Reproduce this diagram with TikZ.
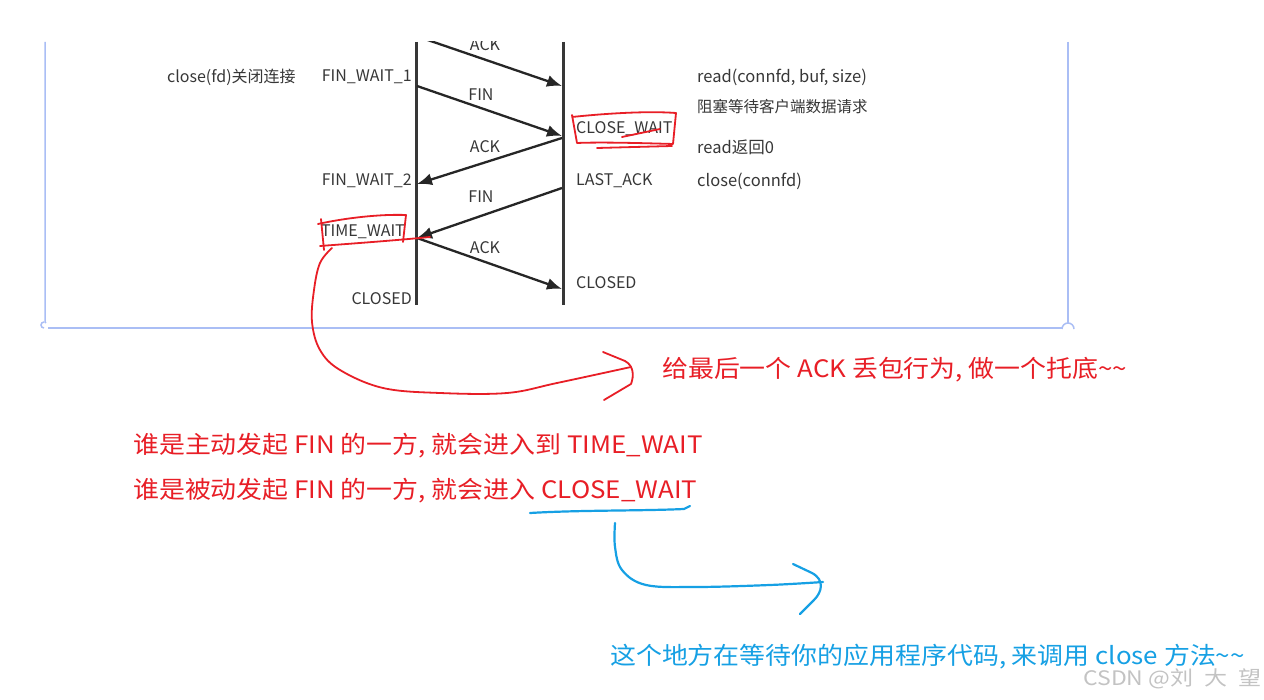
\documentclass[tikz,border=0pt]{standalone}
\usepackage{fontspec}
\newfontfamily\cjk{Noto Sans CJK SC}
\newfontfamily\cjkwide[FakeStretch=1.08]{Noto Sans CJK SC}
\newfontfamily\cjkwm[FakeStretch=1.15]{Noto Sans CJK SC}
\usetikzlibrary{arrows.meta}
\definecolor{ink}{RGB}{55,55,55}
\definecolor{frameblue}{RGB}{170,190,245}
\definecolor{penred}{RGB}{232,30,38}
\definecolor{penblue}{RGB}{22,160,228}
\definecolor{wm}{RGB}{195,195,195}
\tikzset{
  lbl/.style={inner sep=0pt, text=ink, font=\cjk\fontsize{16}{18}\selectfont},
  rlbl/.style={inner sep=0pt, text=ink, font=\cjk\fontsize{16.5}{18}\selectfont},
  timeline/.style={draw=ink, line width=3pt},
  msg/.style={draw=black!85, line width=2.3pt, -{Latex[length=15pt,width=12pt]}},
  frame/.style={draw=frameblue, line width=1.5pt},
  redpen/.style={draw=penred, line width=1.8pt, line cap=round, line join=round},
  bluepen/.style={draw=penblue, line width=2.2pt, line cap=round, line join=round},
  rednote/.style={inner sep=0pt, text=penred, font=\cjkwide\fontsize{24}{28}\selectfont, anchor=west},
  bluenote/.style={inner sep=0pt, text=penblue, font=\cjkwide\fontsize{24}{28}\selectfont, anchor=west}
}
\begin{document}
\begin{tikzpicture}[x=1pt,y=-1pt]
\useasboundingbox (0,0) rectangle (1264,700);
\fill[white] (0,0) rectangle (1264,700);
% frame
\draw[frame] (45,42) -- (45,322) arc[start angle=180,end angle=270,radius=1pt];
\draw[frame] (44,322) arc[start angle=-90,end angle=90,radius=-3pt];
\draw[frame] (48,328) -- (1062,328);
\draw[frame] (1068,42) -- (1068,323);
\draw[frame] (1062,329) arc[start angle=180,end angle=0,radius=6pt];
% timelines
\coordinate (Ltop) at (416,42);
\coordinate (Lbot) at (416,305);
\coordinate (Rtop) at (563,42);
\coordinate (Rbot) at (563,305);
\draw[timeline] (Ltop) -- (Lbot);
\draw[timeline] (Rtop) -- (Rbot);
% messages
\coordinate (a0) at (416,36);
\coordinate (b0) at (562,86);
\coordinate (a1) at (417,86);
\coordinate (b1) at (562,136);
\coordinate (b2) at (562,138);
\coordinate (a2) at (417,184);
\coordinate (b3) at (562,188);
\coordinate (a3) at (417,238);
\coordinate (a4) at (417,238);
\coordinate (b4) at (562,289);
\begin{scope}
\clip (0,42) rectangle (1264,700);
\draw[msg] (a0) -- (b0);
\node[lbl] (m0) at (485,45) {ACK};
\end{scope}
\draw[msg] (a1) -- (b1);
\draw[msg] (b2) -- (a2);
\draw[msg] (b3) -- (a3);
\draw[msg] (a4) -- (b4);
\node[lbl] (m1) at (481,95) {FIN};
\node[lbl] (m2) at (485,147) {ACK};
\node[lbl] (m3) at (481,197) {FIN};
\node[lbl] (m4) at (485,248) {ACK};
% left labels
\node[lbl,anchor=west] (cfd) at (167,77) {close(fd)关闭连接};
\node[lbl,anchor=east] (fw1) at (412,77) {FIN\_WAIT\_1};
\node[lbl,anchor=east] (fw2) at (412,181) {FIN\_WAIT\_2};
\node[lbl,anchor=east] (tw) at (405,232) {TIME\_WAIT};
\node[lbl,anchor=east] (lc) at (412,299) {CLOSED};
% right labels
\node[lbl,anchor=west] (cw) at (576,129) {CLOSE\_WAIT};
\node[lbl,anchor=west] (la) at (576,181) {LAST\_ACK};
\node[lbl,anchor=west] (rc) at (576,283) {CLOSED};
\node[rlbl,anchor=west] (r1) at (697,77) {read(connfd, buf, size)};
\node[rlbl,anchor=west,font=\cjk\fontsize{15.5}{18}\selectfont] (r2) at (697,107) {阻塞等待客户端数据请求};
\node[rlbl,anchor=west] (r3) at (697,147) {read返回0};
\node[rlbl,anchor=west] (r4) at (697,181) {close(connfd)};
% red marks
\draw[redpen] (572,117) .. controls (610,113) and (650,111) .. (676,113) -- (673,144) .. controls (640,143) and (600,142) .. (577,143) -- (572,115);
\draw[redpen] (597,148) -- (672,146);
\draw[redpen] (622,137) -- (660,129);
\draw[redpen] (318,224) .. controls (345,218) and (380,214) .. (406,215) -- (403,242);
\draw[redpen] (321,219) -- (324,250);
\draw[redpen] (320,246) .. controls (360,243) and (400,240) .. (430,237);
\coordinate (rstart) at (332,248);
\coordinate (rend) at (631,367);
\draw[redpen] plot[smooth, tension=0.6] coordinates {(rstart) (320,263) (314,290) (312,322) (320,350) (340,370) (383,388) (440,393) (507,393) (557,383) (rend)};
\draw[redpen] (603,352) -- (625,361) .. controls (634,366) and (634,376) .. (631,384) -- (604,400);
\node[rednote] (n1) at (662,370) {给最后一个 ACK 丢包行为, 做一个托底\textasciitilde\textasciitilde};
\node[rednote] (n2) at (133,446) {谁是主动发起 FIN 的一方, 就会进入到 TIME\_WAIT};
\node[rednote] (n3) at (133,491) {谁是被动发起 FIN 的一方, 就会进入 CLOSE\_WAIT};
% blue marks
\draw[bluepen] (530,513) .. controls (580,510) and (640,511) .. (684,509) -- (690,506);
\coordinate (bstart) at (615,523);
\coordinate (bend) at (823,582);
\draw[bluepen] plot[smooth, tension=0.6] coordinates {(bstart) (615,547) (622,570) (646,585) (696,587) (770,585) (bend)};
\draw[bluepen] (793,564) -- (812,573) .. controls (825,580) and (822,592) .. (814,600) -- (800,614);
\node[bluenote] (n4) at (610,657) {这个地方在等待你的应用程序代码, 来调用 close 方法\textasciitilde\textasciitilde};
\node[inner sep=0pt, anchor=east, text=wm, font=\cjkwm\fontsize{20}{22}\selectfont] (wmk) at (1262,679) {CSDN @刘\hspace{6pt} 大\hspace{6pt} 望};
\end{tikzpicture}
\end{document}
